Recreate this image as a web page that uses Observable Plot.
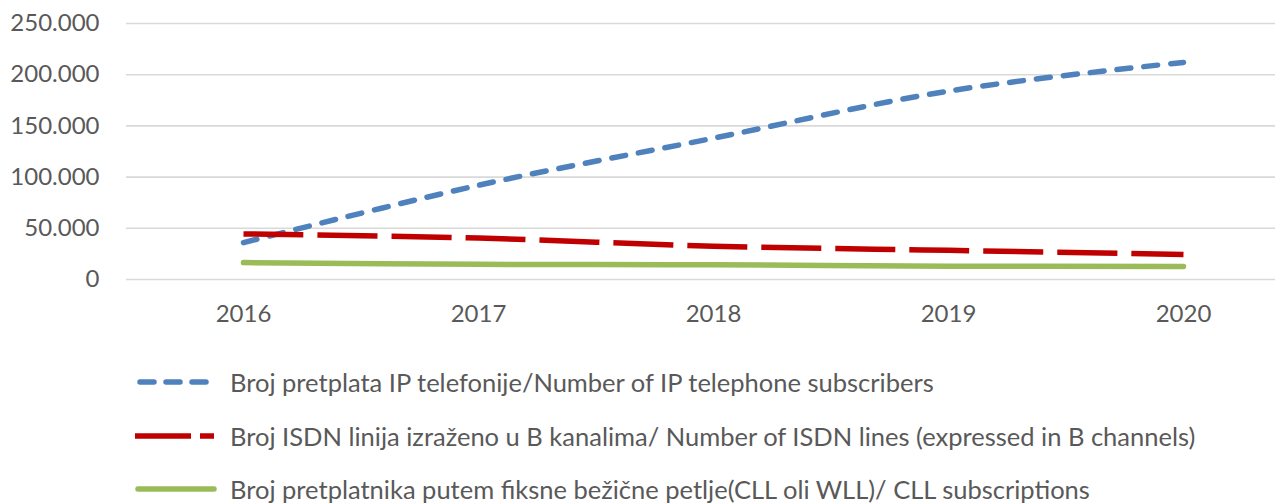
<!DOCTYPE html>
<html>
<head>
<meta charset="utf-8">
<script src="https://cdn.jsdelivr.net/npm/d3@7"></script>
<script src="https://cdn.jsdelivr.net/npm/@observablehq/plot@0.6"></script>
<style>
  html, body { margin: 0; padding: 0; background: #fff; }
  #wrap { position: relative; width: 1275px; height: 504px; overflow: hidden; font-family: Lato, "Liberation Sans", sans-serif; color: #595959; }
  #chart { position: absolute; left: 0; top: 0; }
  .leg { position: absolute; left: 0; height: 30px; line-height: 30px; display: flex; align-items: center; font-size: 25.5px; white-space: nowrap; }
  .leg svg { margin-left: 135px; margin-right: 13px; }
</style>
</head>
<body>
<div id="wrap"><div id="chart"></div></div>
<script>
const years = ["2016", "2017", "2018", "2019", "2020"];
const ipSubscribers = [36000, 92000, 138000, 184000, 212000];
const isdnLines = [44500, 40500, 32500, 28500, 24500];
const cllSubscriptions = [16500, 14800, 14400, 13000, 12800];
const seriesNames = [
  "Broj pretplata IP telefonije/Number of IP telephone subscribers",
  "Broj ISDN linija izraženo u B kanalima/ Number of ISDN lines (expressed in B channels)",
  "Broj pretplatnika putem fiksne bežične petlje(CLL oli WLL)/ CLL subscriptions"
];
const yTicks = [0, 50000, 100000, 150000, 200000, 250000];

const seriesValues = [ipSubscribers, isdnLines, cllSubscriptions];
const styles = [
  {stroke: "#4f81bd", strokeWidth: 5.5, strokeDasharray: "14,13", strokeLinecap: "round"},
  {stroke: "#c00000", strokeWidth: 5.5, strokeDasharray: "60,14", strokeLinecap: "butt"},
  {stroke: "#9bbb59", strokeWidth: 5.5, strokeDasharray: null, strokeLinecap: "round"}
];
const legendDash = ["14,12", "56,9", null];

const rows = [];
seriesNames.forEach((s, i) => years.forEach((y, j) => rows.push({year: y, value: seriesValues[i][j], series: s})));

const fmt = d3.formatLocale({decimal: ",", thousands: ".", grouping: [3], currency: ["", ""]}).format(",.0f");

const lineMarks = seriesNames.map((s, i) => Plot.line(rows.filter(r => r.series === s), {
  x: "year", y: "value", curve: "catmull-rom",
  stroke: styles[i].stroke, strokeWidth: styles[i].strokeWidth,
  strokeDasharray: styles[i].strokeDasharray || undefined,
  strokeLinecap: styles[i].strokeLinecap, strokeLinejoin: "round"
}));

const chart = Plot.plot({
  width: 1275,
  height: 340,
  marginLeft: 126,
  marginRight: 0,
  marginTop: 23,
  marginBottom: 61,
  style: {fontFamily: "Lato, 'Liberation Sans', sans-serif", fontSize: "24px", color: "#595959", background: "transparent"},
  x: {type: "point", domain: years, range: [243, 1183], padding: 0, label: null},
  y: {domain: [0, 250000], label: null},
  marks: [
    Plot.gridY(yTicks, {stroke: "#d9d9d9", strokeOpacity: 1, strokeWidth: 1.6}),
    Plot.axisY(yTicks, {tickSize: 0, tickPadding: 27, tickFormat: fmt, label: null, fill: "#595959"}),
    Plot.axisX(years, {tickSize: 0, tickPadding: 25, label: null, fill: "#595959"}),
    ...lineMarks
  ]
});
document.getElementById("chart").appendChild(chart);

const wrap = document.getElementById("wrap");
const centers = [382, 436, 489];
seriesNames.forEach((s, i) => {
  const div = document.createElement("div");
  div.className = "leg";
  div.style.top = (centers[i] - 15) + "px";
  const ns = "http://www.w3.org/2000/svg";
  const svg = document.createElementNS(ns, "svg");
  svg.setAttribute("width", 82);
  svg.setAttribute("height", 10);
  const ln = document.createElementNS(ns, "line");
  ln.setAttribute("x1", 0);
  ln.setAttribute("x2", 79);
  ln.setAttribute("y1", 5);
  ln.setAttribute("y2", 5);
  ln.setAttribute("stroke", styles[i].stroke);
  ln.setAttribute("stroke-width", 5.5);
  ln.setAttribute("stroke-linecap", styles[i].strokeLinecap);
  if (legendDash[i]) ln.setAttribute("stroke-dasharray", legendDash[i]);
  if (i === 0) { ln.setAttribute("x1", 5); ln.setAttribute("x2", 78); }
  if (i === 2) { ln.setAttribute("x1", 3); ln.setAttribute("x2", 79); }
  svg.appendChild(ln);
  div.appendChild(svg);
  const t = document.createElement("span");
  t.textContent = s;
  div.appendChild(t);
  wrap.appendChild(div);
});
</script>
</body>
</html>
